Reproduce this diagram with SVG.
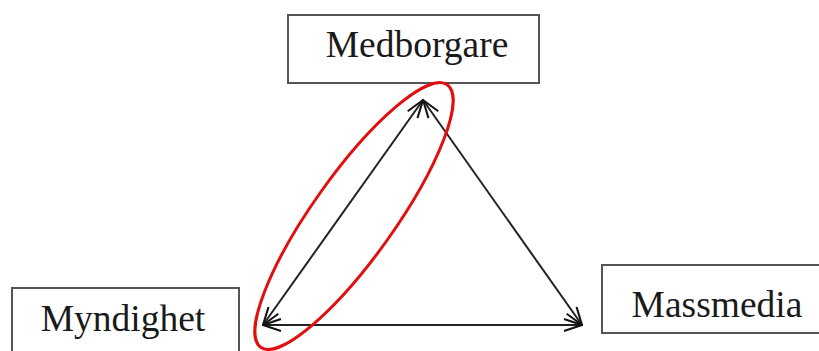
<svg xmlns="http://www.w3.org/2000/svg" width="819" height="351" viewBox="0 0 819 351">
<defs>
<marker id="arr" viewBox="0 0 20 14" refX="19" refY="7" markerWidth="20" markerHeight="14" markerUnits="userSpaceOnUse" orient="auto-start-reverse">
<path d="M1,1 L19,7 L1,13" fill="none" stroke="#111" stroke-width="2"/>
</marker>
<style>
.box{fill:#fff;stroke:#555;stroke-width:2}
.lbl{font-family:"Liberation Serif","Times New Roman",serif;font-size:37.5px;fill:#1a1a1a;text-anchor:middle}
.con{stroke:#222;stroke-width:2;fill:none}
</style>
</defs>
<rect width="819" height="351" fill="#fff"/>
<g id="medborgare">
<rect class="box" x="288" y="15" width="251" height="68"/>
<text class="lbl" x="417" y="57">Medborgare</text>
</g>
<g id="myndighet">
<rect class="box" x="12" y="288" width="227" height="80"/>
<text class="lbl" x="123" y="331">Myndighet</text>
</g>
<g id="massmedia">
<rect class="box" x="602" y="265" width="230" height="68"/>
<text class="lbl" x="717" y="317">Massmedia</text>
</g>
<g id="connectors">
<line class="con" x1="263" y1="325" x2="423" y2="100" marker-start="url(#arr)" marker-end="url(#arr)"/>
<line class="con" x1="582" y1="325" x2="423" y2="100" marker-start="url(#arr)" marker-end="url(#arr)"/>
<line class="con" x1="263" y1="325" x2="582" y2="325" stroke-width="3.5" marker-start="url(#arr)" marker-end="url(#arr)"/>
</g>
<g id="highlight">
<ellipse cx="354" cy="216" rx="161" ry="41" transform="rotate(-54.6 354 216)" fill="none" stroke="#e01010" stroke-width="3"/>
</g>
</svg>
